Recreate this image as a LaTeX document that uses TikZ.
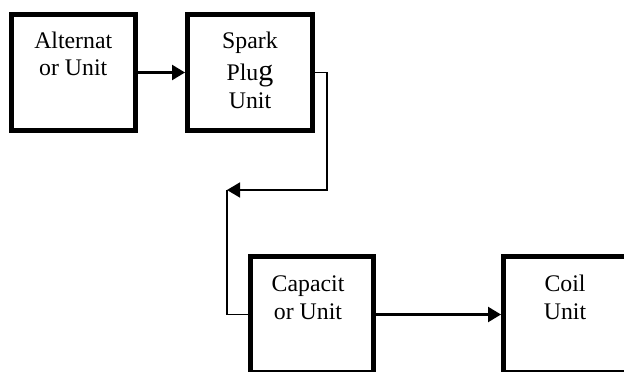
\documentclass[tikz,border=0pt]{standalone}
\usepackage{fontspec}
\setmainfont{Liberation Serif}
\usetikzlibrary{arrows.meta}
\tikzset{
  unitbox/.style={draw=black, line width=5pt, fill=white, rectangle, inner sep=0pt},
  txt/.style={anchor=base, inner sep=0pt, font=\fontsize{23.8}{27.5}\selectfont},
  thickarrow/.style={line width=2.3pt, -{Triangle[length=13pt,width=15pt]}},
  thinarrow/.style={line width=1.7pt, -{Triangle[length=13pt,width=15pt]}},
  thinline/.style={line width=1.7pt}
}
\begin{document}
\begin{tikzpicture}[x=1pt,y=-1pt]
\useasboundingbox (0,0) rectangle (624,372);
\fill[white] (0,0) rectangle (624,372);
\clip (0,0) rectangle (624,372);
% boxes
\node[unitbox, minimum width=123.5pt, minimum height=116pt] (alt) at (73.25,72.5) {};
\node[unitbox, minimum width=125pt, minimum height=116pt] (spark) at (250,72.5) {};
\node[unitbox, minimum width=123pt, minimum height=116pt] (cap) at (312,314.5) {};
\node[unitbox, minimum width=123.5pt, minimum height=116pt] (coil) at (565.25,314.5) {};
% texts
\node[txt] (alt1) at (73.25,48) {Alternat};
\node[txt] (alt2) at (73.25,75) {or Unit};
\node[txt] (sp1) at (250,48) {Spark};
\node[txt] (sp2) at (250,80) {Plu{\fontsize{30}{30}\selectfont g}};
\node[txt] (sp3) at (250,108) {Unit};
\node[txt] (cap1) at (308,291) {Capacit};
\node[txt] (cap2) at (308,319) {or Unit};
\node[txt] (coil1) at (565,291) {Coil};
\node[txt] (coil2) at (565,319) {Unit};
% connectors
\coordinate (tip) at (227,190);
\draw[thickarrow] (alt.east) -- (spark.west);
\draw[thinarrow] (spark.east) -- (327,72.5) -- (327,190) -- (tip);
\draw[thinline] (tip) |- (cap.west);
\draw[thickarrow] (cap.east) -- (coil.west);
\end{tikzpicture}
\end{document}
